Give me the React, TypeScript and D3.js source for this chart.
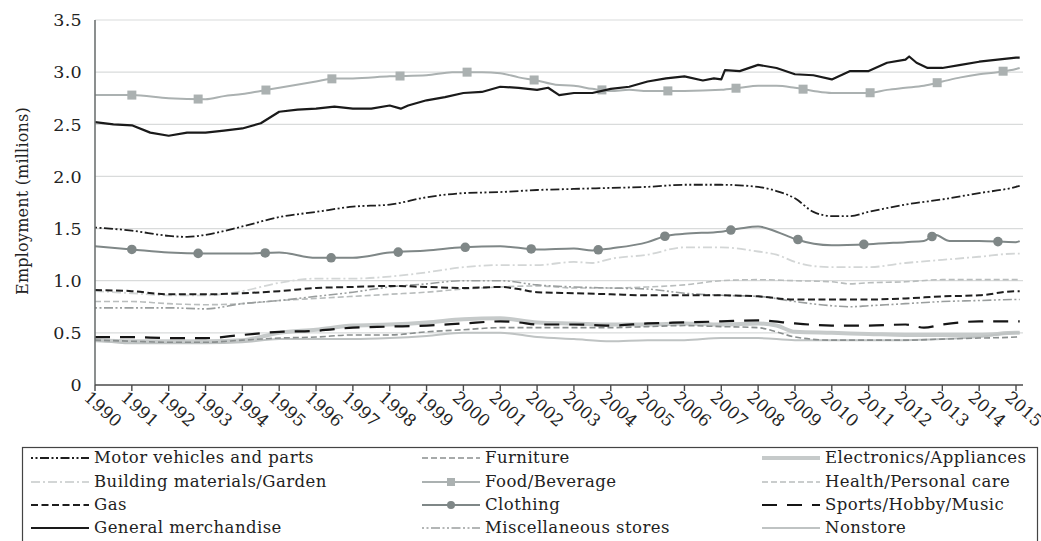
import React, { useRef, useEffect } from "react";
import * as d3 from "d3";

type Pt = [number, number];

// employment, millions
const generalMerchandise: Pt[] = [
  [1990, 2.52], [1990.5, 2.5], [1991, 2.49], [1991.5, 2.42], [1992, 2.39], [1992.5, 2.42],
  [1993, 2.42], [1993.5, 2.44], [1994, 2.46], [1994.5, 2.51], [1995, 2.62], [1995.5, 2.64],
  [1996, 2.65], [1996.5, 2.67], [1997, 2.65], [1997.5, 2.65], [1998, 2.68], [1998.3, 2.65],
  [1998.5, 2.68], [1999, 2.73], [1999.5, 2.76], [2000, 2.8], [2000.5, 2.81], [2001, 2.86],
  [2001.5, 2.85], [2002, 2.83], [2002.3, 2.85], [2002.6, 2.78], [2003, 2.8], [2003.5, 2.8],
  [2004, 2.84], [2004.5, 2.86], [2005, 2.91], [2005.5, 2.94], [2006, 2.96], [2006.5, 2.92],
  [2006.8, 2.94], [2007, 2.93], [2007.1, 3.02], [2007.5, 3.01], [2008, 3.07], [2008.5, 3.04],
  [2009, 2.98], [2009.5, 2.97], [2010, 2.93], [2010.5, 3.01], [2011, 3.01], [2011.5, 3.09],
  [2012, 3.12], [2012.1, 3.15], [2012.3, 3.09], [2012.6, 3.04], [2013, 3.04], [2013.5, 3.07],
  [2014, 3.1], [2014.5, 3.12], [2015, 3.14], [2015.1, 3.14],
];

const foodBeverage: Pt[] = [
  [1990, 2.78], [1991, 2.78], [1992, 2.75], [1993, 2.74], [1993.5, 2.77], [1994, 2.79],
  [1994.5, 2.82], [1995, 2.85], [1996, 2.91], [1996.5, 2.94], [1997, 2.94], [1998, 2.96],
  [1999, 2.97], [1999.7, 3.0], [2000.5, 3.0], [2001, 2.99], [2001.5, 2.95], [2002, 2.92],
  [2002.5, 2.88], [2003, 2.87], [2003.5, 2.84], [2004, 2.82], [2004.5, 2.83], [2005, 2.82],
  [2006, 2.82], [2007, 2.83], [2007.5, 2.85], [2008, 2.87], [2008.5, 2.87], [2009, 2.85],
  [2009.5, 2.82], [2010, 2.8], [2011, 2.8], [2011.5, 2.83], [2012, 2.85], [2012.5, 2.87],
  [2013, 2.91], [2013.5, 2.95], [2014, 2.98], [2014.5, 3.0], [2015, 3.03], [2015.1, 3.04],
];

const motorVehicles: Pt[] = [
  [1990, 1.51], [1991, 1.48], [1992, 1.43], [1992.5, 1.42], [1993, 1.44], [1994, 1.52],
  [1995, 1.61], [1996, 1.66], [1997, 1.71], [1998, 1.73], [1999, 1.8], [2000, 1.84],
  [2001, 1.85], [2002, 1.87], [2003, 1.88], [2004, 1.89], [2005, 1.9], [2006, 1.92],
  [2007, 1.92], [2008, 1.9], [2008.5, 1.86], [2009, 1.79], [2009.5, 1.66], [2010, 1.62],
  [2010.5, 1.62], [2011, 1.66], [2012, 1.73], [2013, 1.78], [2014, 1.84], [2015, 1.9], [2015.1, 1.91],
];

const clothing: Pt[] = [
  [1990, 1.33], [1991, 1.3], [1992, 1.27], [1993, 1.26], [1994, 1.26], [1995, 1.27],
  [1996, 1.22], [1997, 1.22], [1998, 1.27], [1999, 1.29], [2000, 1.32], [2001, 1.33],
  [2002, 1.3], [2003, 1.31], [2003.5, 1.29], [2004, 1.31], [2005, 1.37], [2005.5, 1.43],
  [2006, 1.45], [2007, 1.47], [2007.5, 1.5], [2008, 1.52], [2008.5, 1.47], [2009, 1.4],
  [2010, 1.34], [2011, 1.35], [2012, 1.37], [2012.5, 1.38], [2012.8, 1.44], [2013.2, 1.38],
  [2014, 1.38], [2015, 1.37], [2015.1, 1.38],
];

const buildingMaterials: Pt[] = [
  [1990, 0.9], [1991, 0.88], [1992, 0.86], [1993, 0.86], [1994, 0.9], [1995, 0.98],
  [1996, 1.02], [1997, 1.02], [1998, 1.04], [1999, 1.08], [2000, 1.13], [2001, 1.15],
  [2002, 1.15], [2003, 1.18], [2003.5, 1.17], [2004, 1.21], [2005, 1.25], [2006, 1.32],
  [2007, 1.32], [2008, 1.28], [2008.5, 1.25], [2009, 1.18], [2009.5, 1.14], [2010, 1.13],
  [2011, 1.13], [2012, 1.17], [2013, 1.2], [2014, 1.23], [2015, 1.26], [2015.1, 1.26],
];

const healthCare: Pt[] = [
  [1990, 0.8], [1991, 0.8], [1992, 0.78], [1993, 0.77], [1994, 0.78], [1995, 0.81],
  [1996, 0.83], [1997, 0.85], [1998, 0.87], [1999, 0.89], [2000, 0.92], [2001, 0.94],
  [2002, 0.95], [2003, 0.93], [2004, 0.93], [2005, 0.94], [2006, 0.96], [2007, 1.0],
  [2008, 1.01], [2009, 1.0], [2010, 0.99], [2010.5, 0.97], [2011, 0.98], [2012, 0.99],
  [2013, 1.01], [2014, 1.01], [2015, 1.01], [2015.1, 1.01],
];

const gas: Pt[] = [
  [1990, 0.91], [1991, 0.9], [1992, 0.87], [1993, 0.87], [1994, 0.88], [1995, 0.9],
  [1996, 0.93], [1997, 0.94], [1998, 0.95], [1999, 0.94], [2000, 0.93], [2001, 0.94],
  [2001.5, 0.92], [2002, 0.89], [2003, 0.88], [2004, 0.87], [2005, 0.86], [2006, 0.86],
  [2007, 0.86], [2008, 0.85], [2009, 0.82], [2010, 0.82], [2011, 0.82], [2012, 0.83],
  [2013, 0.85], [2014, 0.86], [2015, 0.9], [2015.1, 0.9],
];

const miscStores: Pt[] = [
  [1990, 0.74], [1991, 0.74], [1992, 0.74], [1993, 0.73], [1994, 0.78], [1995, 0.81],
  [1996, 0.85], [1997, 0.89], [1998, 0.94], [1999, 0.97], [2000, 1.0], [2001, 1.0],
  [2002, 0.96], [2003, 0.94], [2004, 0.93], [2005, 0.92], [2006, 0.88], [2007, 0.86],
  [2008, 0.85], [2009, 0.8], [2010, 0.76], [2010.5, 0.75], [2011, 0.76], [2012, 0.78],
  [2013, 0.8], [2014, 0.81], [2015, 0.82], [2015.1, 0.82],
];

const sportsHobby: Pt[] = [
  [1990, 0.46], [1991, 0.46], [1992, 0.45], [1993, 0.45], [1994, 0.48], [1995, 0.51],
  [1996, 0.52], [1997, 0.55], [1998, 0.56], [1999, 0.57], [2000, 0.59], [2001, 0.61],
  [2001.5, 0.6], [2002, 0.58], [2003, 0.58], [2004, 0.57], [2005, 0.59], [2006, 0.6],
  [2007, 0.61], [2008, 0.62], [2009, 0.59], [2010, 0.57], [2011, 0.57], [2012, 0.58],
  [2012.5, 0.55], [2013, 0.58], [2014, 0.61], [2015, 0.61], [2015.1, 0.61],
];

const electronics: Pt[] = [
  [1990, 0.43], [1991, 0.42], [1992, 0.42], [1993, 0.42], [1994, 0.43], [1995, 0.5],
  [1996, 0.53], [1997, 0.57], [1998, 0.58], [1999, 0.6], [2000, 0.63], [2001, 0.64],
  [2002, 0.6], [2003, 0.59], [2004, 0.58], [2005, 0.58], [2006, 0.59], [2007, 0.58],
  [2008, 0.59], [2008.5, 0.57], [2009, 0.51], [2010, 0.5], [2011, 0.49], [2012, 0.48],
  [2013, 0.48], [2014, 0.48], [2015, 0.5], [2015.1, 0.5],
];

const furniture: Pt[] = [
  [1990, 0.43], [1991, 0.42], [1992, 0.41], [1993, 0.41], [1994, 0.43], [1995, 0.45],
  [1996, 0.46], [1997, 0.48], [1998, 0.48], [1999, 0.51], [2000, 0.53], [2001, 0.55],
  [2002, 0.55], [2003, 0.55], [2004, 0.55], [2005, 0.56], [2006, 0.57], [2007, 0.56],
  [2008, 0.55], [2008.5, 0.51], [2009, 0.46], [2010, 0.43], [2011, 0.43], [2012, 0.43],
  [2013, 0.44], [2014, 0.45], [2015, 0.46], [2015.1, 0.47],
];

const nonstore: Pt[] = [
  [1990, 0.43], [1991, 0.4], [1992, 0.4], [1993, 0.4], [1994, 0.41], [1995, 0.44],
  [1996, 0.44], [1997, 0.44], [1998, 0.45], [1999, 0.47], [2000, 0.5], [2001, 0.5],
  [2002, 0.46], [2003, 0.44], [2004, 0.42], [2005, 0.43], [2006, 0.43], [2007, 0.45],
  [2008, 0.45], [2009, 0.43], [2010, 0.43], [2011, 0.43], [2012, 0.43], [2013, 0.44],
  [2014, 0.46], [2015, 0.5], [2015.1, 0.5],
];

const foodMarkerYears = [1991.0, 1992.8, 1994.64, 1996.43, 1998.28, 2000.1, 2001.92, 2003.76, 2005.55, 2007.4, 2009.22, 2011.04, 2012.86, 2014.65];
const clothingMarkerYears = [1991.0, 1992.8, 1994.62, 1996.41, 1998.23, 2000.05, 2001.84, 2003.66, 2005.47, 2007.26, 2009.08, 2010.87, 2012.72, 2014.51];

const tickYears = [1990, 1991, 1992, 1993, 1994, 1995, 1996, 1997, 1998, 1999, 2000, 2001, 2002,
  2003, 2004, 2005, 2006, 2007, 2008, 2009, 2010, 2011, 2012, 2013, 2014, 2015];
const yTicks = [0, 0.5, 1.0, 1.5, 2.0, 2.5, 3.0, 3.5];

type Series = {
  name: string;
  data: Pt[];
  color: string;
  width: number;
  dash?: string;
  marker?: "square" | "circle";
  markerYears?: number[];
  curve?: d3.CurveFactory;
};

const series: Series[] = [
  { name: "Electronics/Appliances", data: electronics, color: "#c6caca", width: 4 },
  { name: "Nonstore", data: nonstore, color: "#bfc3c3", width: 2 },
  { name: "Building materials/Garden", data: buildingMaterials, color: "#d3d6d6", width: 1.8, dash: "9,3,2,3" },
  { name: "Health/Personal care", data: healthCare, color: "#b9bdbd", width: 1.6, dash: "6,3" },
  { name: "Furniture", data: furniture, color: "#8a8f8f", width: 1.6, dash: "6,3" },
  { name: "Miscellaneous stores", data: miscStores, color: "#9a9e9e", width: 1.6, dash: "2,2.5,2,2.5,9,2.5" },
  { name: "Food/Beverage", data: foodBeverage, color: "#abb1b1", width: 2, marker: "square", markerYears: foodMarkerYears },
  { name: "Clothing", data: clothing, color: "#7f8787", width: 2, marker: "circle", markerYears: clothingMarkerYears },
  { name: "Gas", data: gas, color: "#1e1e1e", width: 2, dash: "7,3.5" },
  { name: "Sports/Hobby/Music", data: sportsHobby, color: "#151515", width: 2.2, dash: "15,10" },
  { name: "Motor vehicles and parts", data: motorVehicles, color: "#1e1e1e", width: 1.8, dash: "2,2.5,2,2.5,9,2.5" },
  { name: "General merchandise", data: generalMerchandise, color: "#1a1a1a", width: 2.2, curve: d3.curveLinear },
];

const legendOrder = [
  ["Motor vehicles and parts", "Furniture", "Electronics/Appliances"],
  ["Building materials/Garden", "Food/Beverage", "Health/Personal care"],
  ["Gas", "Clothing", "Sports/Hobby/Music"],
  ["General merchandise", "Miscellaneous stores", "Nonstore"],
];

const font = "'DejaVu Serif', serif";

const App = () => {
  const ref = useRef<SVGSVGElement>(null);

  useEffect(() => {
    if (!ref.current) return;
    const svg = d3.select(ref.current);
    svg.selectAll("*").remove();

    const left = 95, right = 1023, top = 20, bottom = 385;
    const x = d3.scaleLinear().domain([1990, 2015.19]).range([left, right]);
    const y = d3.scaleLinear().domain([0, 3.5]).range([bottom, top]);

    // gridlines
    svg.append("g")
      .selectAll("line")
      .data(yTicks.filter(d => d > 0))
      .enter()
      .append("line")
      .attr("x1", left).attr("x2", right)
      .attr("y1", d => y(d)).attr("y2", d => y(d))
      .attr("stroke", "#d9dbdb").attr("stroke-width", 1.2);

    // y labels
    svg.append("g")
      .selectAll("text")
      .data(yTicks)
      .enter()
      .append("text")
      .attr("x", 82).attr("y", d => y(d))
      .attr("dy", "0.36em")
      .attr("text-anchor", "end")
      .attr("font-family", font).attr("font-size", 17.5).attr("fill", "#222")
      .attr("letter-spacing", 0.3)
      .text(d => (d === 0 ? "0" : d.toFixed(1)));

    svg.append("text")
      .attr("transform", "translate(28,201) rotate(-90)")
      .attr("text-anchor", "middle")
      .attr("font-family", font).attr("font-size", 16).attr("fill", "#222")
      .attr("letter-spacing", 0.2)
      .text("Employment (millions)");

    // lines
    series.forEach(s => {
      const line = d3.line<Pt>()
        .x(d => x(d[0]))
        .y(d => y(d[1]))
        .curve(s.curve || d3.curveMonotoneX);
      svg.append("path")
        .datum(s.data)
        .attr("d", line)
        .attr("fill", "none")
        .attr("stroke", s.color)
        .attr("stroke-width", s.width)
        .attr("stroke-dasharray", s.dash || null)
        .attr("stroke-linejoin", "round");

      if (s.marker && s.markerYears) {
        const xs = s.data.map(d => d[0]);
        const ys = s.data.map(d => d[1]);
        const interp = d3.scaleLinear().domain(xs).range(ys);
        const g = svg.append("g").attr("fill", s.color);
        s.markerYears.forEach(yr => {
          const cx = x(yr), cy = y(interp(yr));
          if (s.marker === "square") {
            g.append("rect").attr("x", cx - 4.5).attr("y", cy - 4.5).attr("width", 9).attr("height", 9);
          } else {
            g.append("circle").attr("cx", cx).attr("cy", cy).attr("r", 4.8);
          }
        });
      }
    });

    // axes
    svg.append("line")
      .attr("x1", left).attr("x2", left).attr("y1", top).attr("y2", bottom)
      .attr("stroke", "#6f7373").attr("stroke-width", 1.6);
    svg.append("line")
      .attr("x1", left).attr("x2", right).attr("y1", bottom).attr("y2", bottom)
      .attr("stroke", "#4a4a4a").attr("stroke-width", 1.6);

    const xt = svg.append("g");
    xt.selectAll("line")
      .data(tickYears)
      .enter()
      .append("line")
      .attr("x1", d => x(d)).attr("x2", d => x(d))
      .attr("y1", bottom).attr("y2", bottom + 6)
      .attr("stroke", "#4a4a4a").attr("stroke-width", 1.4);
    xt.selectAll("text")
      .data(tickYears)
      .enter()
      .append("text")
      .attr("transform", d => `translate(${x(d) - 12},${bottom + 14}) rotate(42)`)
      .attr("text-anchor", "start")
      .attr("font-family", font).attr("font-size", 17).attr("fill", "#222")
      .text(d => String(d));

    // legend
    svg.append("rect")
      .attr("x", 22.5).attr("y", 447.5)
      .attr("width", 1015).attr("height", 110)
      .attr("fill", "none").attr("stroke", "#444").attr("stroke-width", 1.2);

    const colX = [31, 422, 762];
    const rowY = [458, 482, 505, 528];
    legendOrder.forEach((row, ri) => {
      row.forEach((name, ci) => {
        const s = series.find(d => d.name === name)!;
        const x0 = colX[ci], x1 = colX[ci] + 58, yy = rowY[ri];
        const g = svg.append("g");
        g.append("line")
          .attr("x1", x0).attr("x2", x1).attr("y1", yy).attr("y2", yy)
          .attr("stroke", s.color)
          .attr("stroke-width", s.width)
          .attr("stroke-dasharray", s.dash || null);
        if (s.marker === "square") {
          g.append("rect").attr("x", (x0 + x1) / 2 - 4).attr("y", yy - 4).attr("width", 8).attr("height", 8).attr("fill", s.color);
        } else if (s.marker === "circle") {
          g.append("circle").attr("cx", (x0 + x1) / 2).attr("cy", yy).attr("r", 4).attr("fill", s.color);
        }
        g.append("text")
          .attr("x", x1 + 5).attr("y", yy)
          .attr("dy", "0.33em")
          .attr("font-family", font).attr("font-size", 16.5).attr("fill", "#222")
          .attr("letter-spacing", 0.45)
          .text(name);
      });
    });
  }, []);

  return (
    <svg
      ref={ref}
      width={1041}
      height={541}
      style={{ position: "absolute", left: 0, top: 0, background: "#fff" }}
    />
  );
};

export default App;
